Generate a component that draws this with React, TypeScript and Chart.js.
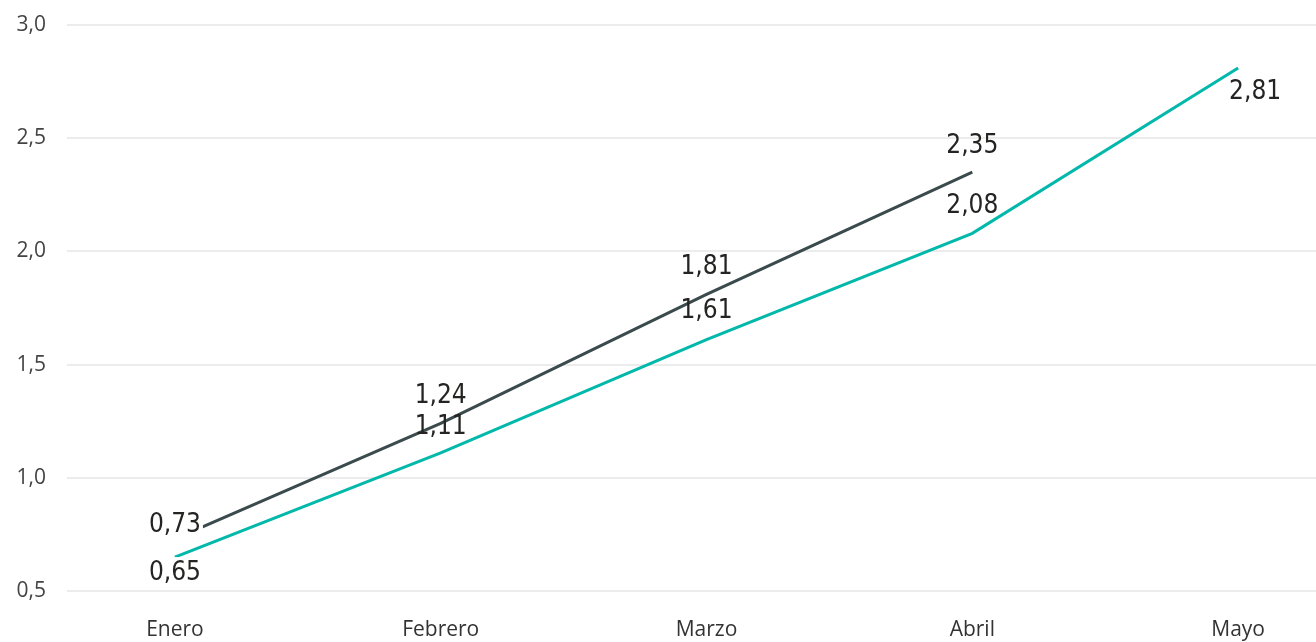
import React, { useEffect, useRef } from "react";
import { Chart, registerables } from "chart.js";

Chart.register(...registerables);

const categories = ["Enero", "Febrero", "Marzo", "Abril", "Mayo"];
const seriesDark = [0.73, 1.24, 1.81, 2.35, null];
const seriesTeal = [0.65, 1.11, 1.61, 2.08, 2.81];
const yTickValues = [0.5, 1.0, 1.5, 2.0, 2.5, 3.0];

const LABEL_FONT = '"Liberation Sans Narrow", "DejaVu Sans Condensed", "Roboto", sans-serif';
const AXIS_FONT = '"Open Sans", "Noto Sans", sans-serif';

const fmt = (v: number, d: number) => v.toFixed(d).replace(".", ",");

const dataLabelPlugin = {
  id: "dataLabels",
  afterDatasetsDraw(chart: any) {
    const ctx = chart.ctx;
    chart.data.datasets.forEach((ds: any, di: number) => {
      const meta = chart.getDatasetMeta(di);
      meta.data.forEach((el: any, i: number) => {
        const raw = ds.data[i];
        if (!raw || raw.y == null) return;
        const text = fmt(raw.y, 2);
        const dy = ds.labelDy ? ds.labelDy[i] : -26;
        const dx = ds.labelDx ? ds.labelDx[i] : 0;
        const x = el.x + dx;
        const y = el.y + dy;
        ctx.save();
        ctx.font = `26px ${LABEL_FONT}`;
        ctx.textAlign = "center";
        ctx.textBaseline = "middle";
        if (ds.labelBg && ds.labelBg[i]) {
          const w = ctx.measureText(text).width;
          ctx.fillStyle = "#ffffff";
          ctx.fillRect(x - w / 2 - 2, y - 16, w + 4, 32);
        }
        ctx.fillStyle = "#252423";
        ctx.fillText(text, x, y);
        ctx.restore();
      });
    });
  },
};

export default function App() {
  const ref = useRef<HTMLCanvasElement | null>(null);

  useEffect(() => {
    if (!ref.current) return;
    const toPoints = (arr: (number | null)[]) =>
      arr
        .map((v, i) => (v == null ? null : { x: i, y: v }))
        .filter((p) => p !== null);

    const chart = new Chart(ref.current, {
      type: "line",
      data: {
        datasets: [
          {
            label: "Serie A",
            data: toPoints(seriesDark) as any,
            borderColor: "#3A4A4D",
            borderWidth: 3,
            pointRadius: 0,
            tension: 0,
            labelDy: [-14, -27, -27, -26, -26],
            labelDx: [0, 0, 0, 0, 0],
            labelBg: [true, false, false, false, false],
          } as any,
          {
            label: "Serie B",
            data: toPoints(seriesTeal) as any,
            borderColor: "#01B8AA",
            borderWidth: 3,
            pointRadius: 0,
            tension: 0,
            labelDy: [16, -26, -28, -27, 24],
            labelDx: [0, 0, 0, 0, 17],
            labelBg: [true, false, false, false, false],
          } as any,
        ],
      },
      options: {
        animation: false,
        responsive: true,
        maintainAspectRatio: false,
        layout: { padding: { top: 25, right: 0, left: 0, bottom: 0 } },
        plugins: {
          legend: { display: false },
          tooltip: { enabled: false },
        },
        scales: {
          x: {
            type: "linear",
            min: -0.406,
            max: 4.293,
            grid: { display: false, drawTicks: false },
            border: { display: false },
            afterBuildTicks: (scale: any) => {
              scale.ticks = categories.map((_, i) => ({ value: i }));
            },
            afterFit: (scale: any) => {
              scale.height = 51;
            },
            ticks: {
              autoSkip: false,
              maxRotation: 0,
              padding: 26,
              color: "#333333",
              font: { family: AXIS_FONT, size: 21 },
              callback: (v: any) => categories[v as number] ?? "",
            },
          },
          y: {
            min: 0.5,
            max: 3.0,
            grid: {
              color: "#ececec",
              lineWidth: 2,
              drawTicks: true,
              tickLength: 21,
              tickColor: "rgba(0,0,0,0)",
            },
            border: { display: false },
            afterBuildTicks: (scale: any) => {
              scale.ticks = yTickValues.map((v) => ({ value: v }));
            },
            afterFit: (scale: any) => {
              scale.width = 67;
            },
            ticks: {
              padding: 0,
              color: "#444444",
              font: { family: AXIS_FONT, size: 21 },
              callback: (v: any) => fmt(Number(v), 1),
            },
          },
        },
      },
      plugins: [dataLabelPlugin],
    });
    return () => chart.destroy();
  }, []);

  return (
    <div
      style={{
        position: "fixed",
        left: 0,
        top: 0,
        width: 1316,
        height: 642,
        background: "#ffffff",
      }}
    >
      <canvas ref={ref} />
    </div>
  );
}
